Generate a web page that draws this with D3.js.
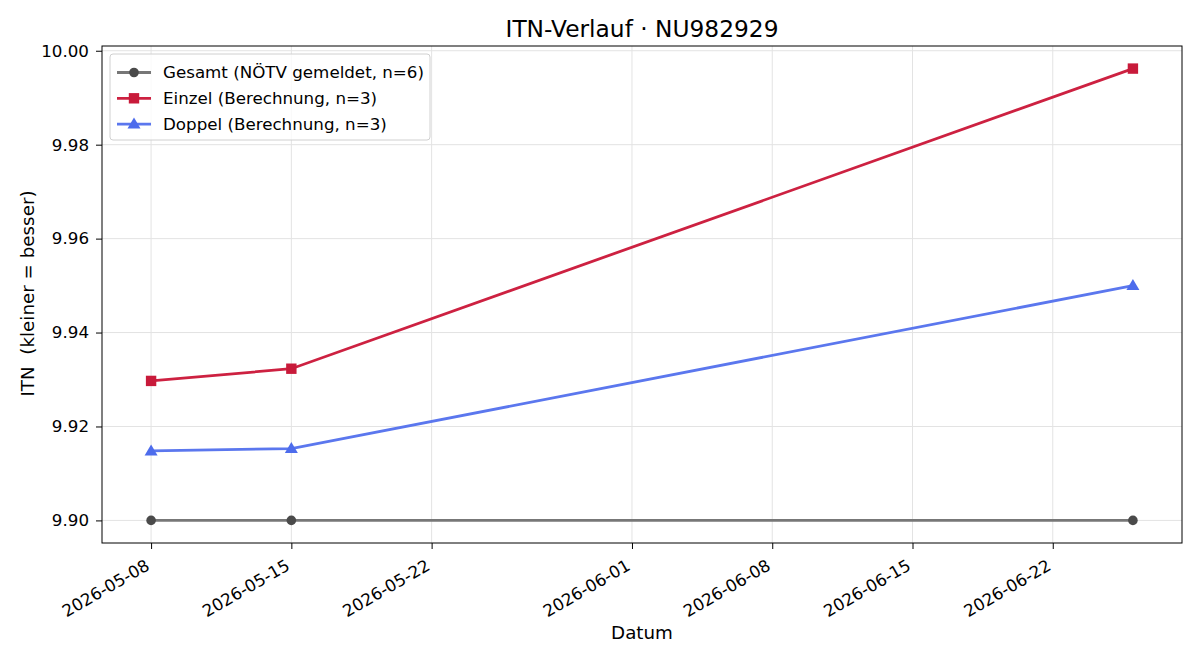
<!DOCTYPE html>
<html>
<head>
<meta charset="utf-8">
<script src="https://cdn.jsdelivr.net/npm/d3@7"></script>
<style>
  body { margin: 0; background: #fff; }
  svg, svg text { font-family: "DejaVu Sans", sans-serif; }
</style>
</head>
<body>
<svg id="chart" width="1200" height="660"></svg>
<script>
// data
const dates = ['2026-05-08', '2026-05-15', '2026-06-26'];
const gesamt = [9.9, 9.9, 9.9];
const einzel = [9.9297, 9.9323, 9.9962];
const doppel = [9.9148, 9.9153, 9.9500];
const tickDates = ['2026-05-08', '2026-05-15', '2026-05-22', '2026-06-01', '2026-06-08', '2026-06-15', '2026-06-22'];
const yTicks = [9.90, 9.92, 9.94, 9.96, 9.98, 10.00];

const parse = d3.utcParse('%Y-%m-%d');
const fmt = d3.utcFormat('%Y-%m-%d');

const series = [
  { name: 'Gesamt (NÖTV gemeldet, n=6)', values: gesamt, line: '#777777', mark: '#4a4a4a', shape: 'circle' },
  { name: 'Einzel (Berechnung, n=3)', values: einzel, line: '#cd2141', mark: '#c81a3a', shape: 'square' },
  { name: 'Doppel (Berechnung, n=3)', values: doppel, line: '#5b77ee', mark: '#4d6cec', shape: 'triangle' },
];

const svg = d3.select('#chart');
const m = { left: 102, right: 1182, top: 46, bottom: 543 };
const fs = 16.7;
const labelFs = 18.3;

// 5% padding like matplotlib
const xs = dates.map(parse);
const x0 = d3.min(xs), x1 = d3.max(xs);
const xpad = (x1 - x0) * 0.05;
const x = d3.scaleUtc()
  .domain([new Date(+x0 - xpad), new Date(+x1 + xpad)])
  .range([m.left, m.right]);

const allV = gesamt.concat(einzel, doppel);
const vmin = d3.min(allV), vmax = d3.max(allV);
const ypad = (vmax - vmin) * 0.05;
const y = d3.scaleLinear()
  .domain([vmin - ypad, vmax + ypad])
  .range([m.bottom, m.top]);

// grid
const grid = svg.append('g');
grid.selectAll('.gx')
  .data(tickDates.map(parse))
  .enter().append('line')
  .attr('x1', d => x(d)).attr('x2', d => x(d))
  .attr('y1', m.top).attr('y2', m.bottom)
  .attr('stroke', '#e3e3e3').attr('stroke-width', 1);
grid.selectAll('.gy')
  .data(yTicks)
  .enter().append('line')
  .attr('x1', m.left).attr('x2', m.right)
  .attr('y1', d => y(d)).attr('y2', d => y(d))
  .attr('stroke', '#e3e3e3').attr('stroke-width', 1);

// axes
const xAxis = svg.append('g')
  .attr('transform', `translate(0,${m.bottom})`)
  .call(d3.axisBottom(x).tickValues(tickDates.map(parse)).tickFormat(fmt).tickSize(6));
xAxis.attr('font-family', null).attr('font-size', null);
xAxis.selectAll('.tick text')
  .attr('font-size', fs).attr('fill', '#000')
  .attr('text-anchor', 'end')
  .attr('x', 0).attr('y', 0).attr('dy', null)
  .attr('transform', 'translate(-1,26) rotate(-30)');

const yAxis = svg.append('g')
  .attr('transform', `translate(${m.left},0)`)
  .call(d3.axisLeft(y).tickValues(yTicks).tickFormat(d3.format('.2f')).tickSize(6).tickPadding(7));
yAxis.attr('font-family', null).attr('font-size', null);
yAxis.selectAll('.tick text').attr('font-size', fs).attr('fill', '#000');

svg.selectAll('.domain').remove();
svg.selectAll('.tick line').attr('stroke', '#000').attr('stroke-width', 1);

svg.append('rect')
  .attr('x', m.left).attr('y', m.top)
  .attr('width', m.right - m.left).attr('height', m.bottom - m.top)
  .attr('fill', 'none').attr('stroke', '#000').attr('stroke-width', 1);

// marker helper
function marker(g, shape, cx, cy, color) {
  if (shape === 'circle') {
    g.append('circle').attr('cx', cx).attr('cy', cy).attr('r', 4.8).attr('fill', color);
  } else if (shape === 'square') {
    g.append('rect').attr('x', cx - 5.2).attr('y', cy - 5.2).attr('width', 10.4).attr('height', 10.4).attr('fill', color);
  } else {
    g.append('path').attr('d', `M${cx},${cy - 6.5}L${cx + 6.5},${cy + 4.5}L${cx - 6.5},${cy + 4.5}Z`).attr('fill', color);
  }
}

// lines + markers
const plot = svg.append('g');
series.forEach(s => {
  const pts = s.values.map((v, i) => [x(xs[i]), y(v)]);
  plot.append('path')
    .attr('d', d3.line()(pts))
    .attr('fill', 'none')
    .attr('stroke', s.line)
    .attr('stroke-width', 2.8);
  pts.forEach(p => marker(plot, s.shape, p[0], p[1], s.mark));
});

// legend
const lg = svg.append('g');
lg.append('rect')
  .attr('x', 110).attr('y', 54).attr('width', 320).attr('height', 86)
  .attr('rx', 3)
  .attr('fill', '#fff').attr('fill-opacity', 0.8)
  .attr('stroke', '#d0d0d0');
series.forEach((s, i) => {
  const ly = 72.5 + i * 25.8;
  lg.append('line')
    .attr('x1', 117).attr('x2', 151).attr('y1', ly).attr('y2', ly)
    .attr('stroke', s.line).attr('stroke-width', 2.8);
  marker(lg, s.shape, 134, ly, s.mark);
  lg.append('text')
    .attr('x', 163).attr('y', ly).attr('dy', '0.35em')
    .attr('font-size', fs)
    .text(s.name);
});

// titles
svg.append('text')
  .attr('x', (m.left + m.right) / 2).attr('y', 36.5)
  .attr('text-anchor', 'middle')
  .attr('font-size', 23.3)
  .text('ITN-Verlauf · NU982929');

svg.append('text')
  .attr('x', (m.left + m.right) / 2).attr('y', 639)
  .attr('text-anchor', 'middle')
  .attr('font-size', labelFs)
  .text('Datum');

svg.append('text')
  .attr('transform', `translate(33.5,${(m.top + m.bottom) / 2 - 1}) rotate(-90)`)
  .attr('text-anchor', 'middle')
  .attr('font-size', labelFs)
  .style('white-space', 'pre')
  .text('ITN  (kleiner = besser)');
</script>
</body>
</html>
